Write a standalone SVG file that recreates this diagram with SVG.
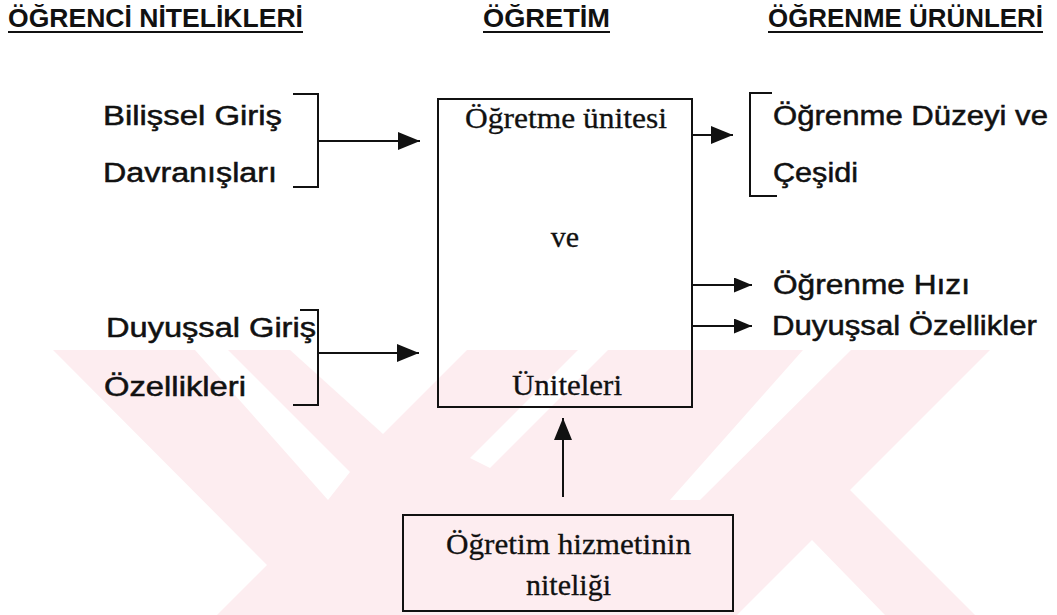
<svg xmlns="http://www.w3.org/2000/svg" width="1057" height="615" viewBox="0 0 1057 615">
<style>
.h{font-family:"Liberation Sans",Arial,sans-serif;font-weight:bold;font-size:25px;fill:#111}
.s{font-family:"Liberation Sans",Arial,sans-serif;font-size:27px;fill:#111;stroke:#111;stroke-width:0.5}
.r{font-family:"Liberation Serif","Times New Roman",serif;font-size:30px;fill:#111;stroke:#111;stroke-width:0.3}
.ln{stroke:#111;stroke-width:2;fill:none}
.wm{fill:#fdedf0}
.wh{fill:#fff}
</style>
<rect width="1057" height="615" fill="#fff"/>
<g id="watermark">
<polygon class="wm" points="53,350 990,350 850,490 975,615 217,615 267,565"/>
<polygon class="wh" points="290,350 467,350 383,434"/>
<polygon class="wh" points="195,350 228,350 350,472 328,500"/>
<polygon class="wh" points="578,350 608,350 490,468 470,458"/>
<polygon class="wh" points="803,350 851,350 700,500 670,500"/>
<polygon class="wh" points="812,540 885,615 737,615"/>
</g>
<g id="headers">
<text class="h" x="8" y="27" textLength="295" lengthAdjust="spacingAndGlyphs">ÖĞRENCİ NİTELİKLERİ</text>
<line class="ln" x1="8" y1="32" x2="303" y2="32"/>
<text class="h" x="483" y="27" textLength="127" lengthAdjust="spacingAndGlyphs">ÖĞRETİM</text>
<line class="ln" x1="483" y1="32" x2="610" y2="32"/>
<text class="h" x="768" y="27" textLength="275" lengthAdjust="spacingAndGlyphs">ÖĞRENME ÜRÜNLERİ</text>
<line class="ln" x1="768" y1="32" x2="1043" y2="32"/>
</g>
<g id="bilissel">
<text class="s" x="103" y="125" textLength="179" lengthAdjust="spacingAndGlyphs">Bilişsel Giriş</text>
<text class="s" x="103" y="182" textLength="174" lengthAdjust="spacingAndGlyphs">Davranışları</text>
<polyline class="ln" points="293,94 318,94 318,187 293,187"/>
</g>
<g id="duyussal-giris">
<text class="s" x="106" y="337" textLength="210" lengthAdjust="spacingAndGlyphs">Duyuşsal Giriş</text>
<text class="s" x="104" y="396" textLength="142" lengthAdjust="spacingAndGlyphs">Özellikleri</text>
<polyline class="ln" points="300,310 318,310 318,405 293,405"/>
</g>
<g id="ogretim-box">
<rect class="ln" x="438" y="99" width="254" height="308"/>
<text class="r" x="465" y="128" textLength="202" lengthAdjust="spacingAndGlyphs">Öğretme ünitesi</text>
<text class="r" x="565" y="247" text-anchor="middle">ve</text>
<text class="r" x="512" y="395" textLength="110" lengthAdjust="spacingAndGlyphs">Üniteleri</text>
</g>
<g id="duzey">
<polyline class="ln" points="772,93 750,93 750,196 777,196"/>
<text class="s" x="773" y="125" textLength="275" lengthAdjust="spacingAndGlyphs">Öğrenme Düzeyi ve</text>
<text class="s" x="773" y="182" textLength="85" lengthAdjust="spacingAndGlyphs">Çeşidi</text>
</g>
<g id="hiz">
<text class="s" x="773" y="294" textLength="197" lengthAdjust="spacingAndGlyphs">Öğrenme Hızı</text>
</g>
<g id="duyussal-ozellikler">
<text class="s" x="772" y="335" textLength="265" lengthAdjust="spacingAndGlyphs">Duyuşsal Özellikler</text>
</g>
<g id="hizmet">
<rect class="ln" x="403" y="515" width="330" height="96"/>
<text class="r" x="446" y="554" textLength="245" lengthAdjust="spacingAndGlyphs">Öğretim hizmetinin</text>
<text class="r" x="526" y="595" textLength="85" lengthAdjust="spacingAndGlyphs">niteliği</text>
</g>
<g id="connectors">
<defs>
<marker id="ah2" viewBox="0 0 10 10" refX="10" refY="5" markerWidth="22" markerHeight="18" markerUnits="userSpaceOnUse" orient="auto" preserveAspectRatio="none"><path d="M0,0 L10,5 L0,10 Z" fill="#111"/></marker>
<marker id="ah3" viewBox="0 0 10 10" refX="10" refY="5" markerWidth="18" markerHeight="15" markerUnits="userSpaceOnUse" orient="auto" preserveAspectRatio="none"><path d="M0,0 L10,5 L0,10 Z" fill="#111"/></marker>
</defs>
<line class="ln" x1="318" y1="141" x2="420" y2="141" marker-end="url(#ah2)"/>
<line class="ln" x1="318" y1="353" x2="419" y2="353" marker-end="url(#ah2)"/>
<line class="ln" x1="692" y1="135" x2="733" y2="135" marker-end="url(#ah2)"/>
<line class="ln" x1="692" y1="285" x2="752" y2="285" marker-end="url(#ah3)"/>
<line class="ln" x1="692" y1="326" x2="752" y2="326" marker-end="url(#ah3)"/>
<line class="ln" x1="563" y1="497" x2="563" y2="418" marker-end="url(#ah2)"/>
</g>
</svg>
